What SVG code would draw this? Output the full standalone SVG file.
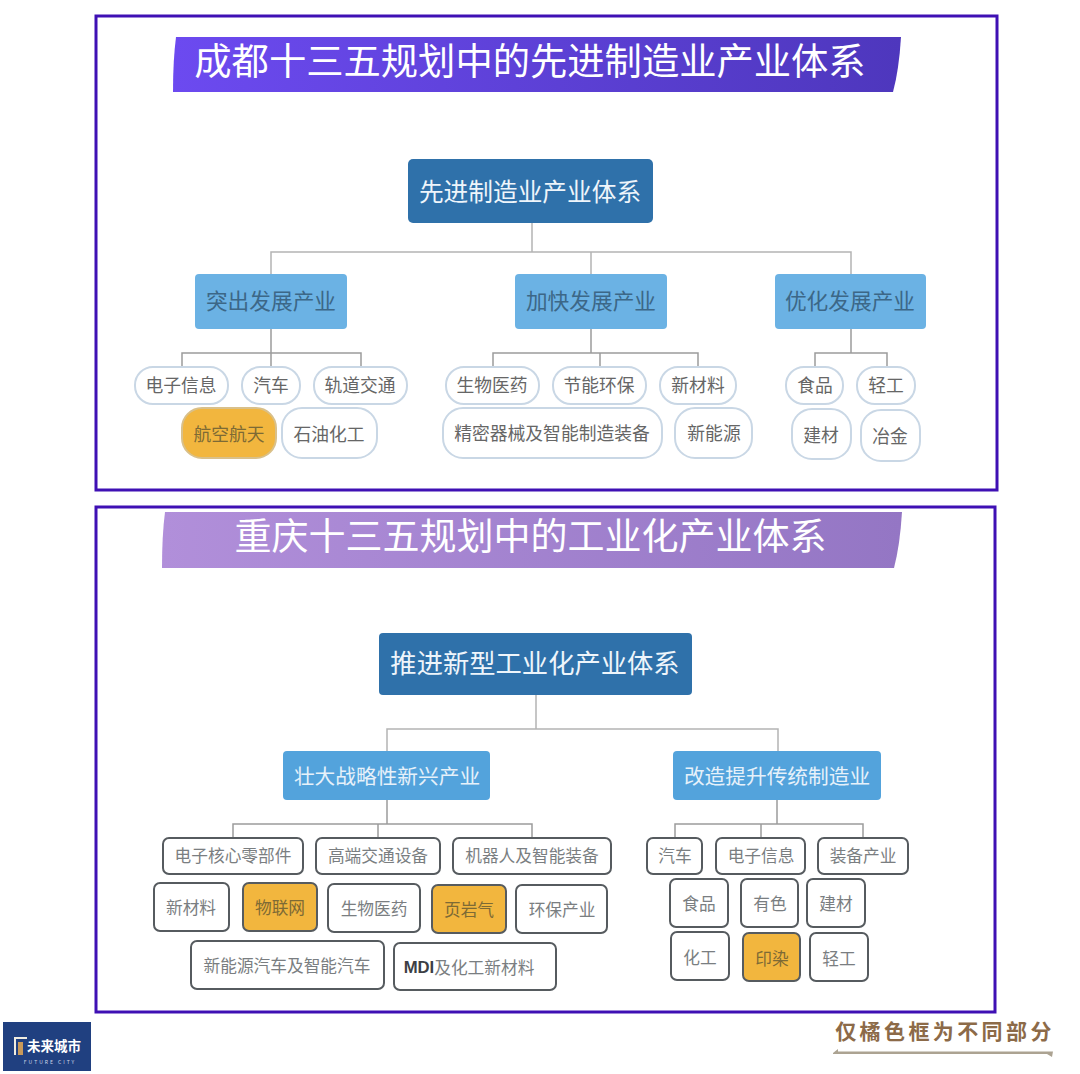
<svg xmlns="http://www.w3.org/2000/svg" width="1080" height="1074" viewBox="0 0 1080 1074">
<style>
text{font-family:"Noto Sans CJK SC","Liberation Sans",sans-serif;text-anchor:middle;dominant-baseline:central}
.frame{fill:#fff;stroke:#3f10b4;stroke-width:3}
.title{fill:#fff;font-size:37.300px}
.root{fill:#2f71aa;stroke:none}
.rt{fill:#eef5fb}
.l2a{fill:#6bb2e4}
.l2at{fill:#3c6787;font-size:21.700px}
.l2b{fill:#53a3dc}
.l2bt{fill:#e6f1fa;font-size:20.700px}
.pill{fill:#fff;stroke:#c9d7e5;stroke-width:2}
.pt{fill:#666;font-size:17.800px}
.box{fill:#fff;stroke:#565b5f;stroke-width:2}
.bt{fill:#7a7e81;font-size:16.700px}
.hl{fill:#f2b63e}
.pill.hl{stroke:#d9c08a}
.hlt{fill:#7d6a35}
.cn{fill:none;stroke:#b4b4b4;stroke-width:1.5}
.cn2{fill:none;stroke:#9c9c9c;stroke-width:1.5}
</style>
<defs>
<linearGradient id="g1" x1="0" y1="0" x2="1" y2="0"><stop offset="0" stop-color="#6c4af0"/><stop offset="1" stop-color="#4e37bd"/></linearGradient>
<linearGradient id="g2" x1="0" y1="0" x2="1" y2="0"><stop offset="0" stop-color="#b18fda"/><stop offset="1" stop-color="#9476c4"/></linearGradient>
</defs>
<rect width="1080" height="1074" fill="#fff"/>
<rect class="frame" x="96" y="16" width="901" height="474"/>
<rect class="frame" x="96" y="507" width="899" height="505"/>

<g id="title-1"><path d="M176 37H901Q899 70 893 92H173Q173 60 176 37Z" fill="url(#g1)"/><text class="title" x="530" y="59">成都十三五规划中的先进制造业产业体系</text></g>
<g id="title-2"><path d="M165 512H902Q900 545 894 568H162Q162 535 165 512Z" fill="url(#g2)"/><text class="title" x="530.500" y="534" style="font-size:37px">重庆十三五规划中的工业化产业体系</text></g>

<g id="connectors">
<path class="cn" d="M532 223V252M271 274V252H851V274M591 252V274M387 751V729H778V751M536 695V729"/>
<path class="cn2" d="M271 329V353M182 367V353H361V367M271 353V367M591 329V353M493 367V353H698V367M600 353V367M851 329V353M815 367V353H887V367"/>
<path class="cn2" d="M387 800V824M233 838V824H532V838M378 824V838M777 800V824M675 838V824H863V838M761 824V838"/>
</g>

<g id="n-root1"><rect class="root" x="408" y="159" width="245" height="64" rx="5"/><text class="rt" x="530" y="190" font-size="24.700">先进制造业产业体系</text></g>
<g id="n-a1"><rect class="l2a" x="195" y="274" width="152" height="55" rx="4"/><text class="l2at" x="271" y="299.500">突出发展产业</text></g>
<g id="n-a2"><rect class="l2a" x="515" y="274" width="152" height="55" rx="4"/><text class="l2at" x="591" y="299.500">加快发展产业</text></g>
<g id="n-a3"><rect class="l2a" x="775" y="274" width="151" height="55" rx="4"/><text class="l2at" x="850" y="299.500">优化发展产业</text></g>

<g id="n-p1"><rect class="pill" x="135" y="367" width="93" height="37" rx="18"/><text class="pt" x="181" y="384">电子信息</text></g>
<g id="n-p2"><rect class="pill" x="242" y="367" width="58" height="37" rx="18"/><text class="pt" x="271" y="384">汽车</text></g>
<g id="n-p3"><rect class="pill" x="314" y="367" width="93" height="37" rx="18"/><text class="pt" x="360" y="384">轨道交通</text></g>
<g id="n-p4"><rect class="pill hl" x="182" y="408" width="94" height="50" rx="20"/><text class="pt hlt" x="229" y="433">航空航天</text></g>
<g id="n-p5"><rect class="pill" x="282" y="408" width="95" height="50" rx="20"/><text class="pt" x="329" y="433">石油化工</text></g>
<g id="n-p6"><rect class="pill" x="446" y="367" width="93" height="37" rx="18"/><text class="pt" x="492" y="384">生物医药</text></g>
<g id="n-p7"><rect class="pill" x="553" y="367" width="93" height="37" rx="18"/><text class="pt" x="599" y="384">节能环保</text></g>
<g id="n-p8"><rect class="pill" x="660" y="367" width="76" height="37" rx="18"/><text class="pt" x="698" y="384">新材料</text></g>
<g id="n-p9"><rect class="pill" x="443" y="408" width="219" height="50" rx="20"/><text class="pt" x="552" y="432">精密器械及智能制造装备</text></g>
<g id="n-p10"><rect class="pill" x="675" y="408" width="77" height="50" rx="20"/><text class="pt" x="714" y="432">新能源</text></g>
<g id="n-p11"><rect class="pill" x="786" y="367" width="57" height="37" rx="18"/><text class="pt" x="815" y="384">食品</text></g>
<g id="n-p12"><rect class="pill" x="857" y="367" width="58" height="37" rx="18"/><text class="pt" x="886" y="384">轻工</text></g>
<g id="n-p13"><rect class="pill" x="792" y="409" width="59" height="50" rx="20"/><text class="pt" x="821" y="434">建材</text></g>
<g id="n-p14"><rect class="pill" x="861" y="410" width="59" height="51" rx="20"/><text class="pt" x="890" y="435">冶金</text></g>

<g id="n-root2"><rect class="root" x="379" y="633" width="313" height="62" rx="4"/><text class="rt" x="535" y="661" font-size="26.300">推进新型工业化产业体系</text></g>
<g id="n-b1"><rect class="l2b" x="283" y="751" width="207" height="49" rx="4"/><text class="l2bt" x="387" y="775">壮大战略性新兴产业</text></g>
<g id="n-b2"><rect class="l2b" x="673" y="751" width="208" height="49" rx="4"/><text class="l2bt" x="777" y="775">改造提升传统制造业</text></g>

<g id="n-q1"><rect class="box" x="163" y="838" width="140" height="36" rx="6"/><text class="bt" x="233" y="855">电子核心零部件</text></g>
<g id="n-q2"><rect class="box" x="316" y="838" width="124" height="36" rx="6"/><text class="bt" x="378" y="855">高端交通设备</text></g>
<g id="n-q3"><rect class="box" x="453" y="838" width="158" height="36" rx="6"/><text class="bt" x="532" y="855">机器人及智能装备</text></g>
<g id="n-q4"><rect class="box" x="154" y="883" width="75" height="48" rx="6"/><text class="bt" x="191" y="907">新材料</text></g>
<g id="n-q5"><rect class="box hl" x="243" y="883" width="74" height="48" rx="6"/><text class="bt hlt" x="280" y="907">物联网</text></g>
<g id="n-q6"><rect class="box" x="328" y="884" width="92" height="48" rx="6"/><text class="bt" x="374" y="908">生物医药</text></g>
<g id="n-q7"><rect class="box hl" x="432" y="885" width="74" height="48" rx="6"/><text class="bt hlt" x="469" y="909">页岩气</text></g>
<g id="n-q8"><rect class="box" x="516" y="885" width="91" height="48" rx="6"/><text class="bt" x="562" y="909">环保产业</text></g>
<g id="n-q9"><rect class="box" x="191" y="941" width="193" height="48" rx="6"/><text class="bt" x="287" y="965">新能源汽车及智能汽车</text></g>
<g id="n-q10"><rect class="box" x="394" y="943" width="162" height="47" rx="6"/><text class="bt" x="469" y="967"><tspan font-family="Liberation Sans" font-weight="700" fill="#3c3f45">MDI</tspan>及化工新材料</text></g>
<g id="n-q11"><rect class="box" x="647" y="838" width="55" height="36" rx="6"/><text class="bt" x="675" y="855">汽车</text></g>
<g id="n-q12"><rect class="box" x="716" y="838" width="89" height="36" rx="6"/><text class="bt" x="761" y="855">电子信息</text></g>
<g id="n-q13"><rect class="box" x="818" y="838" width="90" height="36" rx="6"/><text class="bt" x="863" y="855">装备产业</text></g>
<g id="n-q14"><rect class="box" x="670" y="879" width="58" height="48" rx="6"/><text class="bt" x="699" y="903">食品</text></g>
<g id="n-q15"><rect class="box" x="741" y="879" width="57" height="48" rx="6"/><text class="bt" x="770" y="903">有色</text></g>
<g id="n-q16"><rect class="box" x="807" y="879" width="58" height="48" rx="6"/><text class="bt" x="836" y="903">建材</text></g>
<g id="n-q17"><rect class="box" x="671" y="932" width="58" height="48" rx="6"/><text class="bt" x="700" y="957">化工</text></g>
<g id="n-q18"><rect class="box hl" x="743" y="933" width="57" height="48" rx="6"/><text class="bt hlt" x="772" y="958">印染</text></g>
<g id="n-q19"><rect class="box" x="810" y="933" width="58" height="48" rx="6"/><text class="bt" x="839" y="958">轻工</text></g>

<g id="logo"><rect x="3" y="1022" width="88" height="49" fill="#204080"/>
<path d="M14 1037H27V1039H16V1055H14Z" fill="#f0ece0"/><rect x="18" y="1042" width="5" height="13" fill="#c89a5a"/>
<text x="54" y="1045" font-size="13.500" font-weight="700" fill="#fff">未来城市</text>
<text x="50" y="1061" font-size="5" letter-spacing="2" fill="#cfd8e8" font-family="Liberation Sans">FUTURE CITY</text></g>

<g id="note"><text x="945" y="1030" font-size="21" font-weight="700" letter-spacing="3.400" fill="#8c6a48">仅橘色框为不同部分</text>
<path d="M833 1053L838 1049V1051.500H1053L1052 1057L1047 1054H833Z" fill="#aca392"/></g>
</svg>
